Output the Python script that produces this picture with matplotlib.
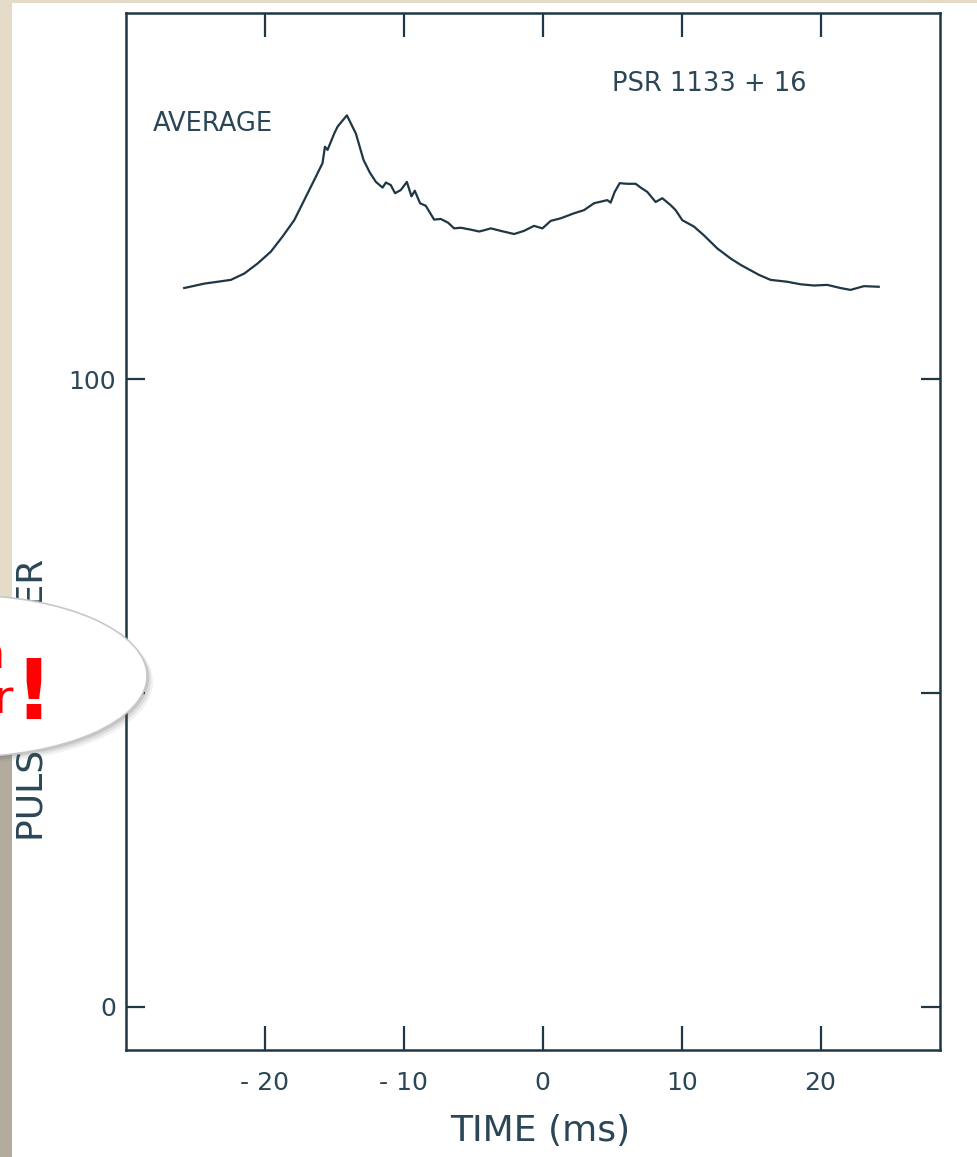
import matplotlib
matplotlib.use("Agg")
import matplotlib.pyplot as plt
from matplotlib.patches import Ellipse, Rectangle

# ---- data (time in ms, pulse number units) ----
time_ms = [-25.81, -24.37, -23.40, -22.45, -21.49, -20.53, -19.57, -18.73, -17.89, -17.17,
           -16.45, -15.85, -15.68, -15.49, -15.01, -14.77, -14.10, -13.45, -12.90, -12.45,
           -12.01, -11.53, -11.29, -10.94, -10.63, -10.22, -9.78, -9.45, -9.21, -8.83,
           -8.42, -7.82, -7.34, -6.81, -6.38, -5.90, -5.18, -4.58, -4.22, -3.74,
           -3.02, -2.06, -1.35, -0.63, -0.02, 0.58, 1.29, 1.53, 2.25, 2.97,
           3.69, 4.65, 4.89, 5.18, 5.54, 6.09, 6.69, 7.05, 7.53, 8.13,
           8.61, 9.21, 9.57, 10.05, 10.88, 11.60, 12.57, 13.53, 14.24, 15.56,
           16.40, 17.60, 18.56, 19.52, 20.48, 21.44, 22.16, 23.12, 24.19]
avg_profile = [114.5, 115.2, 115.5, 115.8, 116.8, 118.4, 120.3, 122.7, 125.3, 128.5,
               131.7, 134.4, 137.0, 136.5, 139.1, 140.2, 142.0, 139.1, 134.9, 132.9,
               131.4, 130.5, 131.3, 130.9, 129.6, 130.1, 131.4, 129.1, 130.0, 128.0,
               127.6, 125.4, 125.5, 124.9, 124.0, 124.1, 123.8, 123.5, 123.7, 124.0,
               123.6, 123.1, 123.6, 124.4, 124.0, 125.2, 125.6, 125.8, 126.4, 126.9,
               128.0, 128.5, 128.1, 129.8, 131.2, 131.1, 131.1, 130.5, 129.8, 128.2,
               128.8, 127.7, 126.9, 125.3, 124.3, 122.9, 120.8, 119.2, 118.2, 116.6,
               115.8, 115.5, 115.1, 114.9, 115.0, 114.5, 114.2, 114.8, 114.7]

x_ticks = [-20, -10, 0, 10, 20]
x_tick_labels = ["- 20", "- 10", "0", "10", "20"]
y_ticks = [0, 50, 100]
y_tick_labels = ["0", "", "100"]

ink = "#1f3644"
text_ink = "#2b4656"

W, H = 977, 1157
fig = plt.figure(figsize=(W / 100, H / 100), dpi=100, facecolor="#e5dbc9")

# white sheet of paper on the beige background, darker strip low on the left
fig.patches.append(Rectangle((0, 0), 12 / W, 1 - 745 / H, transform=fig.transFigure,
                             facecolor="#b3ab9d", edgecolor="none", zorder=0))
fig.patches.append(Rectangle((12 / W, 0), 1 - 12 / W, 1 - 3 / H, transform=fig.transFigure,
                             facecolor="white", edgecolor="none", zorder=0))

ax = fig.add_axes([126 / W, 1 - 1050 / H, (940 - 126) / W, (1050 - 13) / H], zorder=1)
ax.set_facecolor("white")
ax.plot(time_ms, avg_profile, color=ink, lw=1.6)

ax.set_xlim(-30.0, 28.6)
ax.set_ylim(-6.85, 158.3)
ax.set_xticks(x_ticks)
ax.set_xticklabels(x_tick_labels)
ax.set_yticks(y_ticks)
ax.set_yticklabels(y_tick_labels)
ax.tick_params(axis="x", direction="in", length=17, width=1.6, color=ink, top=True,
               labelsize=18, labelcolor=text_ink, pad=15)
ax.tick_params(axis="y", direction="in", length=14, width=1.6, color=ink, right=True,
               labelsize=18, labelcolor=text_ink, pad=7)
for s in ax.spines.values():
    s.set_color(ink)
    s.set_linewidth(1.8)

ax.text(-28.06, 140.6, "AVERAGE", fontsize=18.5, color=text_ink, va="center", ha="left")
ax.text(4.96, 147.0, "PSR 1133 + 16", fontsize=18.5, color=text_ink, va="center", ha="left")

# overlay in pixel coordinates for the labels and the speech bubble
ov = fig.add_axes([0, 0, 1, 1], zorder=5)
ov.set_xlim(0, W)
ov.set_ylim(H, 0)
ov.axis("off")

ov.text(540, 1131, "TIME (ms)", fontsize=26, color=text_ink, ha="center", va="center", zorder=1)
ov.text(33, 700, "PULSE NUMBER", fontsize=26, color=text_ink, rotation=90,
        ha="center", va="center", zorder=1)

# bubble with a soft shadow
for k, a in [(6, 0.08), (4, 0.12), (2, 0.18)]:
    ov.add_patch(Ellipse((-37 + k, 676 + k), 368, 162, facecolor="#555555",
                         edgecolor="none", alpha=a, zorder=2))
ov.add_patch(Ellipse((-37, 676), 368, 162, facecolor="white", edgecolor="#c8c8c8",
                     lw=1.2, zorder=3))

ov.text(5, 668, "n", fontsize=32, color="#ff0000", ha="right", va="baseline", zorder=4)
ov.text(13, 713, "r", fontsize=34, color="#ff0000", ha="right", va="baseline", zorder=4)
ov.text(33, 719, "!", fontsize=60, fontweight="bold", color="#ff0000",
        ha="center", va="baseline", zorder=4)

fig.savefig("out.png", dpi=100, facecolor=fig.get_facecolor())
